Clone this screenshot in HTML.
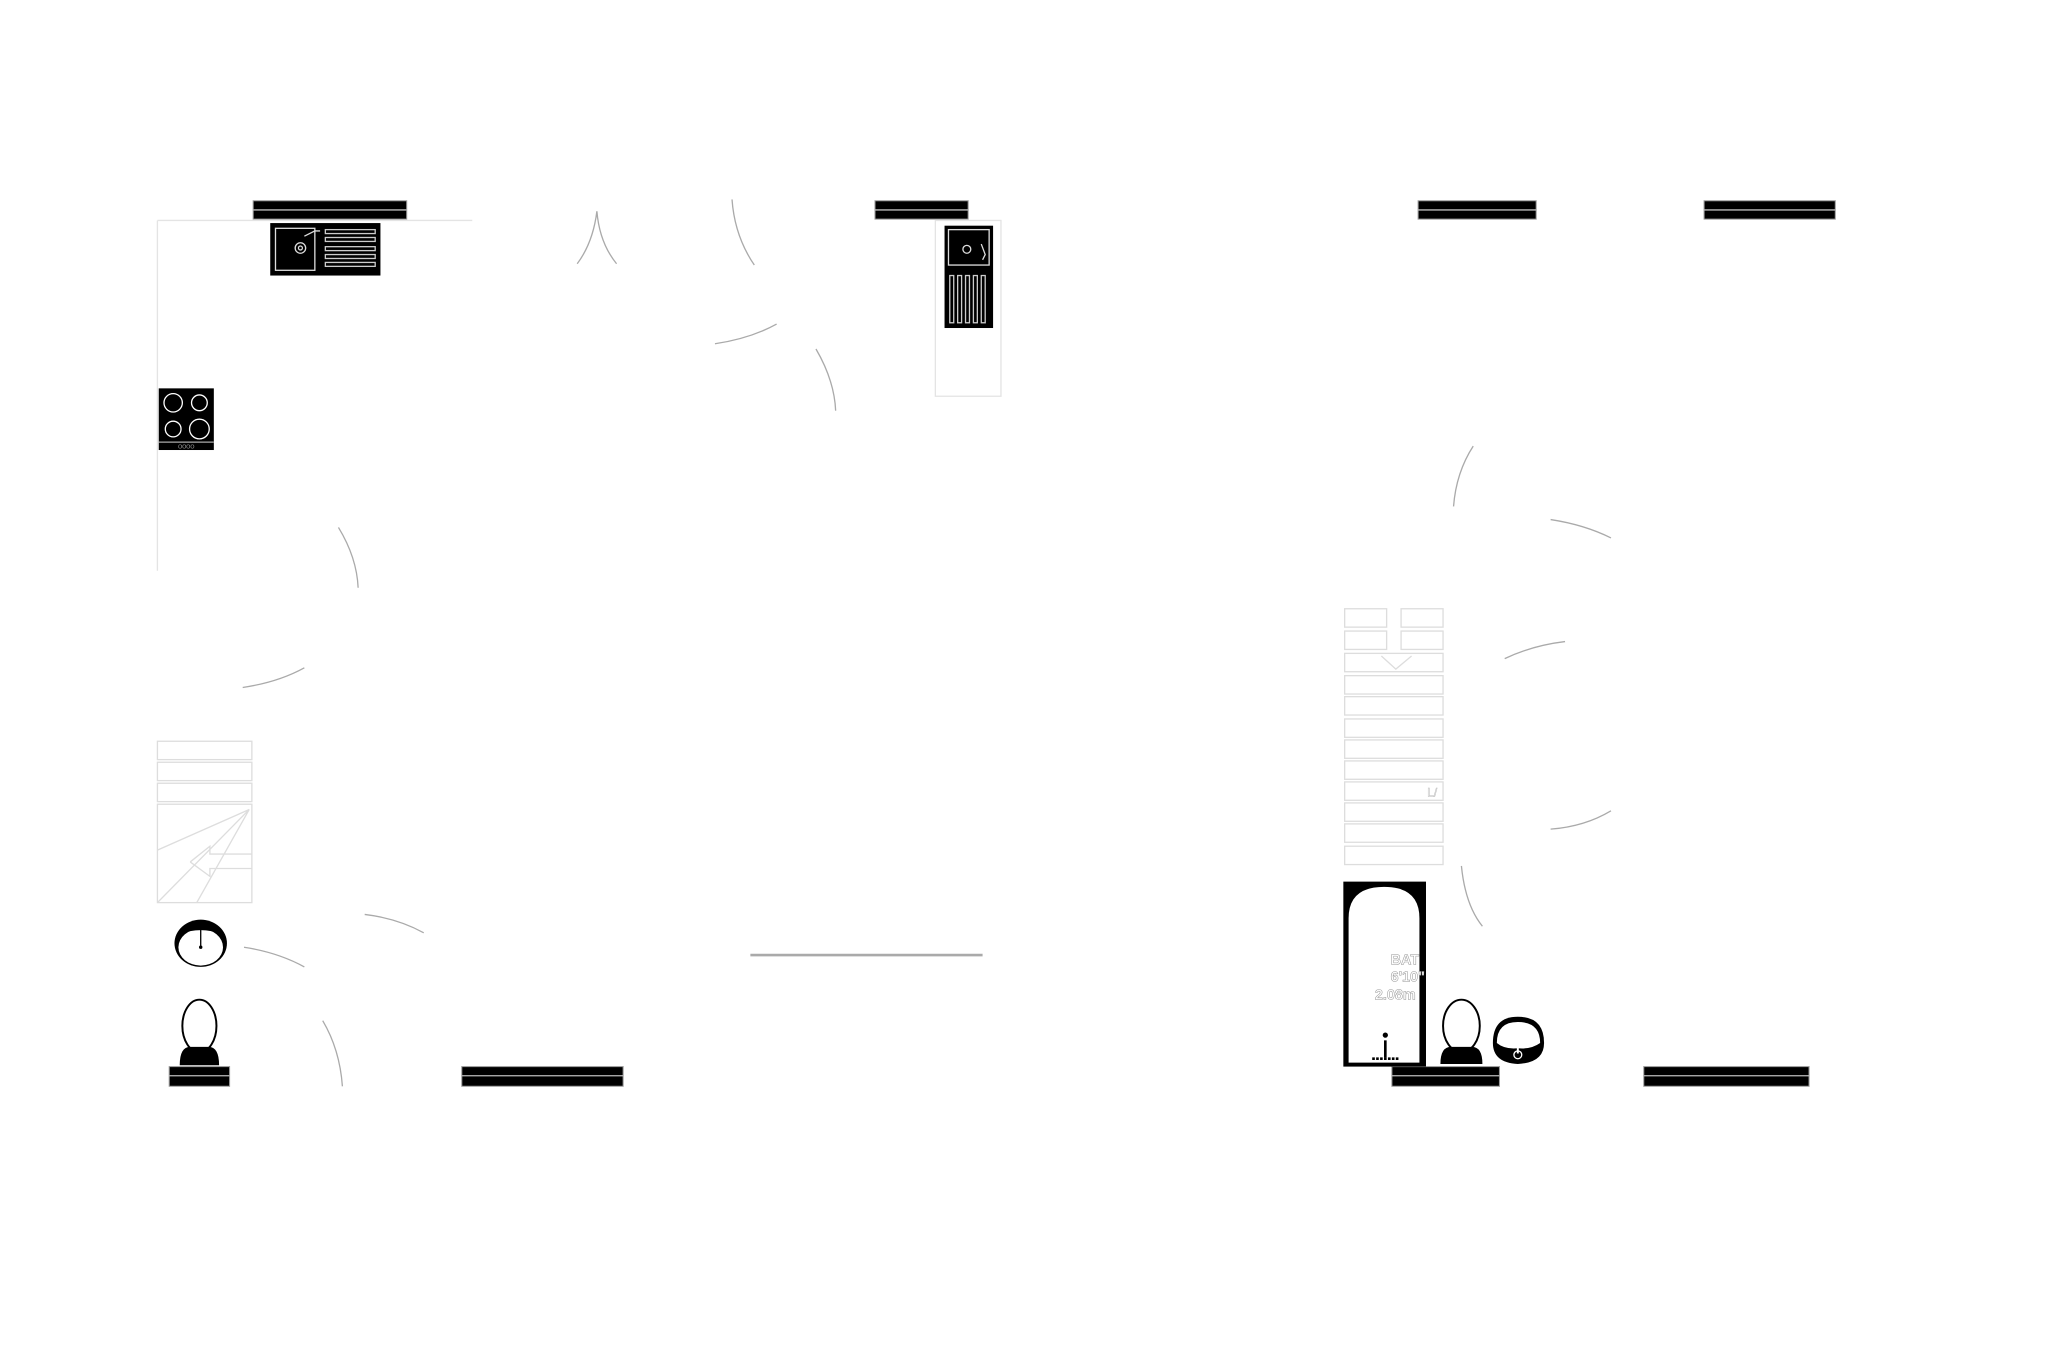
<!DOCTYPE html>
<html><head><meta charset="utf-8"><style>html,body{margin:0;padding:0;background:#fff}svg{display:block}</style></head><body>
<svg width="2057" height="1371" viewBox="0 0 1568 1045" xmlns="http://www.w3.org/2000/svg">
<rect width="1568" height="1045" fill="#fff"/>
<g fill="#000" stroke="#999" stroke-width="0.8">
<rect x="193" y="153" width="117" height="14"/>
<rect x="667" y="153" width="71" height="14"/>
<rect x="1081" y="153" width="90" height="14"/>
<rect x="1299" y="153" width="100" height="14"/>
<rect x="129" y="813" width="46" height="15"/>
<rect x="352" y="813" width="123" height="15"/>
<rect x="1061" y="813" width="82" height="15"/>
<rect x="1253" y="813" width="126" height="15"/>
</g>
<g stroke="#bbb" stroke-width="1">
<line x1="193" y1="160" x2="310" y2="160"/><line x1="667" y1="160" x2="738" y2="160"/>
<line x1="1081" y1="160" x2="1171" y2="160"/><line x1="1299" y1="160" x2="1399" y2="160"/>
<line x1="129" y1="820" x2="175" y2="820"/><line x1="352" y1="820" x2="475" y2="820"/>
<line x1="1061" y1="820" x2="1143" y2="820"/><line x1="1253" y1="820" x2="1379" y2="820"/>
</g>
<g stroke="#e4e4e4" fill="none" stroke-width="1">
<path d="M120 168 H360 M120 168 V435"/>
<rect x="713" y="168" width="50" height="134"/>
</g>
<!-- kitchen sink -->
<rect x="206" y="170" width="84" height="40" fill="#000"/>
<rect x="210" y="174" width="30" height="32" fill="none" stroke="#ddd"/>
<circle cx="229" cy="189" r="4" fill="none" stroke="#ddd"/><circle cx="229" cy="189" r="1.5" fill="none" stroke="#ddd"/>
<path d="M232 180 L240 176 L244 176" stroke="#ddd" fill="none"/>
<g fill="none" stroke="#ccc" stroke-width="1"><rect x="248" y="175" width="38" height="3"/><rect x="248" y="181" width="38" height="3"/><rect x="248" y="188" width="38" height="3"/><rect x="248" y="194" width="38" height="3"/><rect x="248" y="200" width="38" height="3"/></g>
<!-- right sink -->
<rect x="720" y="172" width="37" height="78" fill="#000"/>
<rect x="723" y="175" width="31" height="27" fill="none" stroke="#ddd"/>
<circle cx="737" cy="190" r="3" fill="none" stroke="#ddd"/>
<path d="M748 186 L751 194 L749 198" stroke="#ddd" fill="none"/>
<g fill="none" stroke="#ccc"><rect x="724" y="210" width="3" height="36"/><rect x="730" y="210" width="3" height="36"/><rect x="736" y="210" width="3" height="36"/><rect x="742" y="210" width="3" height="36"/><rect x="748" y="210" width="3" height="36"/></g>
<!-- hob -->
<rect x="121" y="296" width="42" height="47" fill="#000"/>
<g fill="none" stroke="#fff" stroke-width="1"><circle cx="132" cy="307" r="7"/><circle cx="152" cy="307" r="6"/><circle cx="132" cy="327" r="6"/><circle cx="152" cy="327" r="7.5"/></g>
<line x1="121" y1="337" x2="163" y2="337" stroke="#aaa"/>
<text x="142" y="342" font-size="4" fill="#aaa" text-anchor="middle" font-family="Liberation Sans, sans-serif">OOOO</text>
<!-- arcs -->
<g fill="none" stroke="#aaa" stroke-width="1">
<path d="M440 201 Q452 185 455 161 Q457 185 470 201"/>
<path d="M558 152 Q560 180 575 202"/>
<path d="M545 262 Q572 258 592 247"/>
<path d="M622 266 Q636 290 637 313"/>
<path d="M258 402 Q272 425 273 448"/>
<path d="M185 524 Q212 520 232 509"/>
<path d="M278 697 Q303 700 323 711"/>
<path d="M186 722 Q212 726 232 737"/>
<path d="M246 778 Q259 800 261 828"/>
<path d="M1108 386 Q1110 360 1123 340"/>
<path d="M1182 396 Q1208 400 1228 410"/>
<path d="M1147 502 Q1168 492 1193 489"/>
<path d="M1182 632 Q1208 630 1228 618"/>
<path d="M1114 660 Q1117 690 1130 706"/>
</g>
<line x1="572" y1="728" x2="749" y2="728" stroke="#aaa" stroke-width="2"/>
<!-- left stairs -->
<g fill="none" stroke="#ddd" stroke-width="1">
<rect x="120" y="565" width="72" height="14"/><rect x="120" y="581" width="72" height="14"/><rect x="120" y="597" width="72" height="14"/>
<rect x="120" y="613" width="72" height="75"/>
<path d="M120 648 L190 617 M120 688 L190 617 M150 688 L190 617 M145 657 L160 645 L160 651 L192 651 M145 657 L160 668 L160 662 L192 662"/>
</g>
<!-- basin left -->
<ellipse cx="153" cy="719" rx="20" ry="18" fill="#000"/>
<ellipse cx="153" cy="722" rx="17" ry="14" fill="#fff"/>
<path d="M137 712 Q153 700 169 712 Q153 706 137 712Z" fill="#000"/>
<line x1="153" y1="708" x2="153" y2="722" stroke="#000"/><circle cx="153" cy="722" r="1.3" fill="#000"/>
<!-- toilet left -->
<ellipse cx="152" cy="782" rx="13" ry="20" fill="#fff" stroke="#000" stroke-width="1.5"/>
<path d="M137 812 Q137 798 145 798 H159 Q167 798 167 812Z" fill="#000"/>
<!-- right stairs -->
<g fill="none" stroke="#ddd" stroke-width="1">
<rect x="1025" y="464" width="32" height="14"/><rect x="1068" y="464" width="32" height="14"/>
<rect x="1025" y="481" width="32" height="14"/><rect x="1068" y="481" width="32" height="14"/>
<rect x="1025" y="498" width="75" height="14"/><rect x="1025" y="515" width="75" height="14"/>
<rect x="1025" y="531" width="75" height="14"/><rect x="1025" y="548" width="75" height="14"/>
<rect x="1025" y="564" width="75" height="14"/><rect x="1025" y="580" width="75" height="14"/>
<rect x="1025" y="596" width="75" height="14"/><rect x="1025" y="612" width="75" height="14"/>
<rect x="1025" y="628" width="75" height="14"/><rect x="1025" y="645" width="75" height="14"/>
<path d="M1053 500 L1064 510 L1076 500"/>
</g>
<text x="1088" y="607" font-size="9" fill="#fff" stroke="#bbb" stroke-width="0.4" font-family="Liberation Sans, sans-serif">L/</text>
<!-- bath -->
<rect x="1024" y="672" width="63" height="141" fill="#000"/>
<path d="M1028 810 V700 Q1028 676 1055 676 Q1082 676 1082 700 V810Z" fill="#fff"/>
<g font-family="Liberation Sans, sans-serif" font-size="11" font-weight="bold" fill="#fff" stroke="#999" stroke-width="0.4">
<text x="1060" y="735">BAT</text><text x="1060" y="748">6'10"</text><text x="1048" y="762">2.08m</text>
</g>
<circle cx="1056" cy="789" r="2" fill="#000"/><line x1="1056" y1="793" x2="1056" y2="806" stroke="#000" stroke-width="2"/>
<path d="M1046 807 H1066" stroke="#000" stroke-width="2" stroke-dasharray="2 1"/>
<!-- toilet right -->
<ellipse cx="1114" cy="782" rx="14" ry="20" fill="#fff" stroke="#000" stroke-width="1.5"/>
<path d="M1098 811 Q1098 798 1106 798 H1122 Q1130 798 1130 811Z" fill="#000"/>
<!-- basin right -->
<path d="M1138 795 Q1138 775 1157 775 Q1177 775 1177 795 Q1177 810 1157 811 Q1138 810 1138 795Z" fill="#000"/>
<path d="M1141 795 Q1141 779 1157 779 Q1174 779 1174 795 Q1167 800 1157 799 Q1147 800 1141 795Z" fill="#fff"/>
<line x1="1157" y1="791" x2="1157" y2="803" stroke="#fff" stroke-width="1.5"/>
<circle cx="1157" cy="804" r="3" fill="none" stroke="#fff"/>
</svg>
</body></html>
